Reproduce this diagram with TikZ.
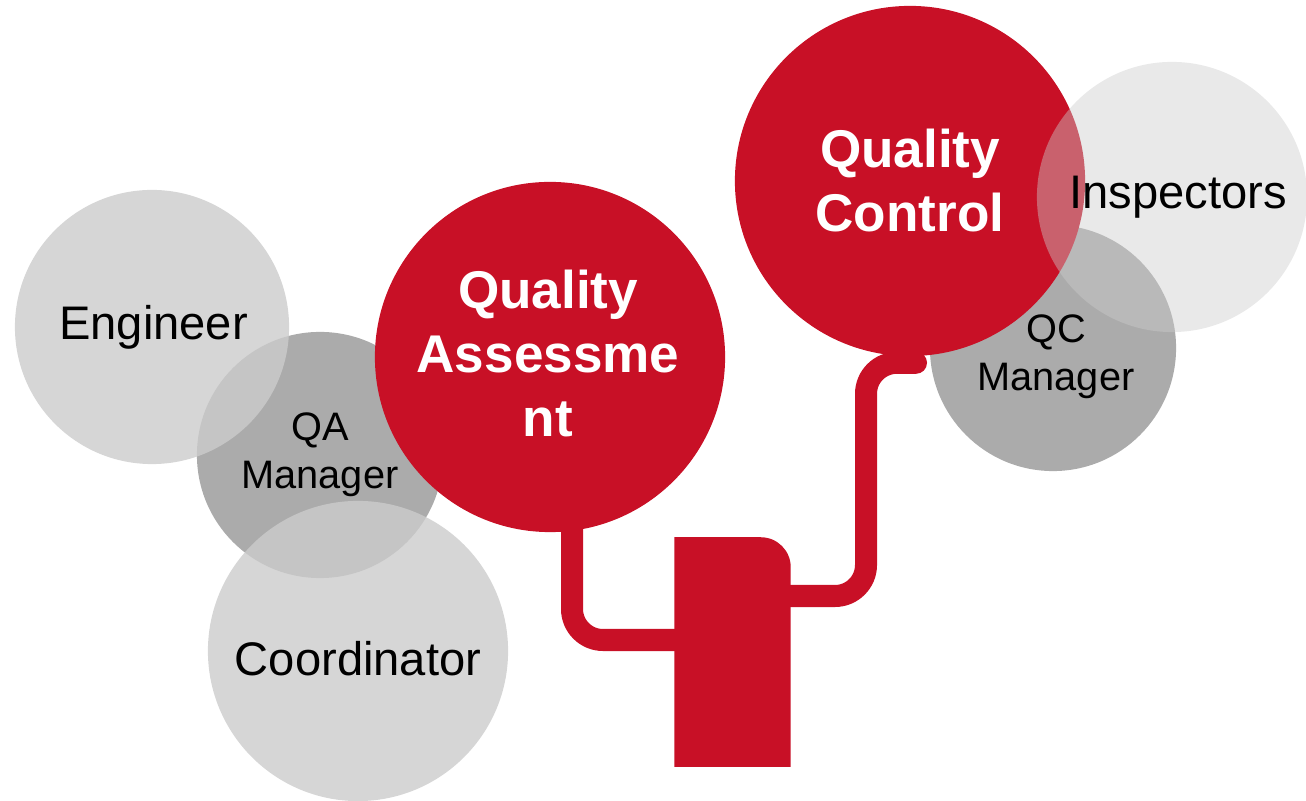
\documentclass[tikz,border=0pt]{standalone}
\usepackage{fontspec}
\setmainfont{Liberation Sans}
\usetikzlibrary{calc}
\definecolor{qred}{RGB}{200,16,38}
\definecolor{dgray}{RGB}{171,171,171}
\definecolor{lgray}{RGB}{204,204,204}
\tikzset{
  bubble/.style={circle, inner sep=0pt, align=center, text=black},
  redbubble/.style={bubble, fill=qred},
  redtxt/.style={align=center, text=white, font=\fontsize{15.1pt}{18.2pt}\selectfont\bfseries},
  bigtxt/.style={font=\fontsize{13.4pt}{16pt}\selectfont},
  smalltxt/.style={align=center, font=\fontsize{11.3pt}{13.6pt}\selectfont},
  pipe/.style={draw=qred, line width=0.22cm, rounded corners=0.31cm},
}
\begin{document}
\begin{tikzpicture}[x=0.01cm, y=-0.01cm]
\useasboundingbox (0,0) rectangle (1306,801);
% left cluster
\node[bubble, fill=dgray, minimum size=2.46cm, smalltxt] (qam) at (320,455) {QA\\Manager};
\node[bubble, fill=lgray, fill opacity=0.8, text opacity=1, minimum size=2.74cm, bigtxt] (eng) at (152,327) {\hspace*{0.03cm}Engineer};
\node[bubble, fill=lgray, fill opacity=0.8, minimum size=3.0cm,
  label={[bigtxt, yshift=-0.08cm]center:Coordinator}] (coord) at (358,651) {};
\node[redbubble, minimum size=3.5cm,
  label={[redtxt, yshift=0.03cm, xshift=-0.02cm]center:Quality\\Assessme\\nt}] (qa) at (550,357) {};
% box
\node[inner sep=0pt, minimum width=1.15cm, minimum height=2.28cm] (box) at (732.5,652) {};
\fill[qred] (box.south west) -- (box.north west) -- ([xshift=-0.3cm]box.north east)
  arc[start angle=90, end angle=0, radius=0.3cm] -- (box.south east) -- cycle;
% right cluster
\node[bubble, fill=dgray, minimum size=2.46cm,
  label={[smalltxt, yshift=-0.09cm, xshift=0.03cm]center:QC\\Manager}] (qcm) at (1053,348) {};
\node[redbubble, minimum size=3.5cm,
  label={[redtxt]center:Quality\\Control}] (qc) at (910,181) {};
% pipes
\coordinate (p1) at ($(qa.center)+(22,140)$);
\coordinate (p2) at ($(box.west)+(15,-12)$);
\draw[pipe] (p1) |- (p2);
\coordinate (p3) at ($(box.east)+(-10,-56)$);
\coordinate (p4) at ($(qc.south)+(-44,6)$);
\coordinate (p5) at ($(qc.south)+(6,6)$);
\draw[pipe, line cap=round] (p3) -| (p4) -- (p5);
\node[bubble, fill=lgray, fill opacity=0.43, text opacity=1, minimum size=2.70cm, bigtxt] (insp) at (1172,197) {\hspace*{0.12cm}Inspectors};
\end{tikzpicture}
\end{document}
